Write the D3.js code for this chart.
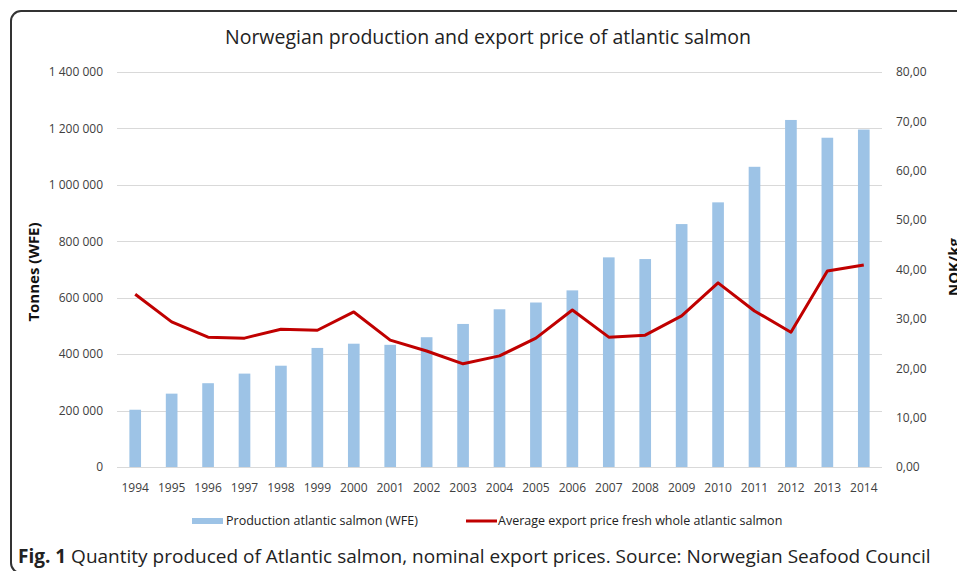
<!DOCTYPE html>
<html>
<head>
<meta charset="utf-8">
<script src="https://cdn.jsdelivr.net/npm/d3@7"></script>
<style>
  body { margin: 0; background: #fff; }
  svg { display: block; font-family: "Open Sans", sans-serif; }
</style>
</head>
<body>
<script>
// chart data
var years = ["1994", "1995", "1996", "1997", "1998", "1999", "2000", "2001", "2002", "2003", "2004",
             "2005", "2006", "2007", "2008", "2009", "2010", "2011", "2012", "2013", "2014"];
var production = [203000, 260000, 297000, 331000, 359000, 422000, 437000, 433000, 460000, 507000, 559000,
                  583000, 626000, 743000, 737000, 861000, 938000, 1064000, 1230000, 1167000, 1196000];
var price = [35.0, 29.4, 26.3, 26.1, 27.9, 27.7, 31.4, 25.7, 23.5, 20.9, 22.5,
             26.1, 31.8, 26.3, 26.7, 30.6, 37.3, 31.6, 27.3, 39.7, 40.9];
var leftTicks = [0, 200000, 400000, 600000, 800000, 1000000, 1200000, 1400000];
var rightTicks = [0, 10, 20, 30, 40, 50, 60, 70, 80];

var width = 957, height = 571;
var plot = {left: 117, right: 882, top: 72, bottom: 467};

var svg = d3.select("body").append("svg")
    .attr("width", width)
    .attr("height", height);

// frame round the figure
svg.append("rect")
    .attr("x", 11).attr("y", 11)
    .attr("width", 1000).attr("height", 562)
    .attr("rx", 10)
    .attr("fill", "none")
    .attr("stroke", "#333")
    .attr("stroke-width", 2);

var x = d3.scaleBand()
    .domain(years)
    .range([plot.left, plot.right])
    .paddingInner(0.68)
    .paddingOuter(0.34);
var yL = d3.scaleLinear().domain([0, 1400000]).range([plot.bottom, plot.top]);
var yR = d3.scaleLinear().domain([0, 80]).range([plot.bottom, plot.top]);

var noLocale = d3.formatLocale({decimal: ",", thousands: "\u00a0", grouping: [3], currency: ["", ""]});
var fmtL = noLocale.format(",d");
var fmtR = noLocale.format(".2f");

// gridlines
svg.append("g")
    .selectAll("line")
    .data(leftTicks)
    .enter().append("line")
    .attr("x1", plot.left).attr("x2", plot.right)
    .attr("y1", function(d) { return Math.round(yL(d)) + 0.5; })
    .attr("y2", function(d) { return Math.round(yL(d)) + 0.5; })
    .attr("stroke", "#d9d9d9")
    .attr("stroke-width", 1);

// left axis
var axL = svg.append("g")
    .attr("transform", "translate(" + (plot.left - 8) + ",0)")
    .call(d3.axisLeft(yL).tickValues(leftTicks).tickFormat(fmtL).tickSize(0).tickPadding(6));
axL.select(".domain").remove();
axL.selectAll("text").attr("font-size", 12).attr("fill", "#404040").attr("font-family", "Open Sans");

// right axis
var axR = svg.append("g")
    .attr("transform", "translate(" + (plot.right + 8) + ",0)")
    .call(d3.axisRight(yR).tickValues(rightTicks).tickFormat(fmtR).tickSize(0).tickPadding(6));
axR.select(".domain").remove();
axR.selectAll("text").attr("font-size", 12).attr("fill", "#404040").attr("font-family", "Open Sans");

// x axis
var axX = svg.append("g")
    .attr("transform", "translate(0," + (plot.bottom + 8) + ")")
    .call(d3.axisBottom(x).tickSize(0).tickPadding(8));
axX.select(".domain").remove();
axX.selectAll("text").attr("font-size", 12).attr("fill", "#404040").attr("font-family", "Open Sans");

// bars
svg.selectAll(".bar")
    .data(production)
    .enter().append("rect")
    .attr("class", "bar")
    .attr("x", function(d, i) { return x(years[i]); })
    .attr("width", x.bandwidth())
    .attr("y", function(d) { return yL(d); })
    .attr("height", function(d) { return yL(0) - yL(d); })
    .attr("fill", "#9dc3e6");

// price line
var line = d3.line()
    .x(function(d, i) { return x(years[i]) + x.bandwidth() / 2; })
    .y(function(d) { return yR(d); });

svg.append("path")
    .datum(price)
    .attr("d", line)
    .attr("fill", "none")
    .attr("stroke", "#c00000")
    .attr("stroke-width", 3)
    .attr("stroke-linejoin", "round");

// title
svg.append("text")
    .attr("x", 488).attr("y", 44)
    .attr("text-anchor", "middle")
    .attr("font-size", 19.5)
    .attr("fill", "#222")
    .text("Norwegian production and export price of atlantic salmon");

// axis titles
svg.append("text")
    .attr("transform", "translate(39,272) rotate(-90)")
    .attr("text-anchor", "middle")
    .attr("font-size", 15)
    .attr("font-weight", "bold")
    .attr("fill", "#111")
    .text("Tonnes (WFE)");

svg.append("text")
    .attr("transform", "translate(959,267) rotate(-90)")
    .attr("text-anchor", "middle")
    .attr("font-size", 15)
    .attr("font-weight", "bold")
    .attr("fill", "#111")
    .text("NOK/kg");

// legend
var legend = svg.append("g").attr("font-size", 12.5).attr("fill", "#222");
legend.append("rect")
    .attr("x", 192).attr("y", 518)
    .attr("width", 31).attr("height", 6)
    .attr("fill", "#9dc3e6");
legend.append("text")
    .attr("x", 226).attr("y", 525)
    .text("Production atlantic salmon (WFE)");
legend.append("line")
    .attr("x1", 466).attr("x2", 497)
    .attr("y1", 521).attr("y2", 521)
    .attr("stroke", "#c00000")
    .attr("stroke-width", 3);
legend.append("text")
    .attr("x", 498).attr("y", 525)
    .text("Average export price fresh whole atlantic salmon");

// caption
var cap = svg.append("text")
    .attr("x", 18).attr("y", 563)
    .attr("font-size", 19)
    .attr("fill", "#222");
cap.append("tspan").attr("font-weight", "bold").text("Fig. 1");
cap.append("tspan").text(" Quantity produced of Atlantic salmon, nominal export prices. Source: Norwegian Seafood Council");
</script>
</body>
</html>
